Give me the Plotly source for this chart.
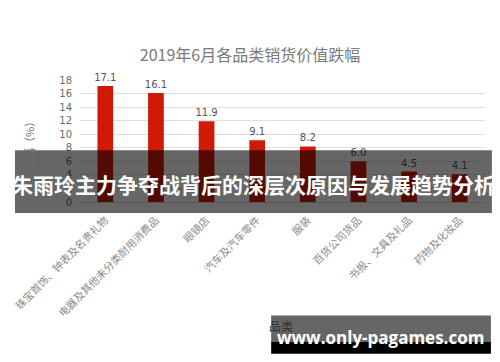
import plotly.graph_objects as go

categories = ["珠宝首饰、钟表及名贵礼物", "电器及其他未分类耐用消费品", "眼镜店", "汽车及汽车零件",
              "服装", "百货公司货品", "书报、文具及礼品", "药物及化妆品"]
values = [17.1, 16.1, 11.9, 9.1, 8.2, 6.0, 4.5, 4.1]
value_labels = ["17.1", "16.1", "11.9", "9.1", "8.2", "6.0", "4.5", "4.1"]
y_ticks = [0, 2, 4, 6, 8, 10, 12, 14, 16, 18]

title_text = "2019年6月各品类销货价值跌幅"
y_title = "跌幅（%）"
x_title = "品类"
banner_text = "朱雨玲主力争夺战背后的深层次原因与发展趋势分析"
watermark_text = "www.only-pagames.com"

W, H = 500, 362
L, R, T, B = 74, 15, 80, 160.3
pw, ph = W - L - R, H - T - B

def px_x(p):
    return (p - L) / pw

def px_y(p):
    return (H - B - p) / ph

fig = go.Figure()
fig.add_trace(go.Bar(
    x=categories, y=values, width=0.31,
    marker=dict(color="#cf1a06", line=dict(width=0)),
    text=value_labels, textposition="outside", cliponaxis=False, constraintext="none",
    textfont=dict(size=10, color="#555555", family="DejaVu Sans"),
))

fig.update_layout(
    width=W, height=H,
    margin=dict(l=L, r=R, t=T, b=B),
    paper_bgcolor="white", plot_bgcolor="white",
    showlegend=False,
    title=dict(text=title_text, x=0.5, xanchor="center", y=1 - 55 / H, yanchor="middle",
               font=dict(size=16, color="#7a7a7a", family="Noto Sans CJK SC")),
    xaxis=dict(tickangle=-45, tickfont=dict(size=10.5, color="#8a8a8a", family="Noto Sans CJK SC"),
               showline=True, linecolor="#d9d9d9", linewidth=1, ticks="", showgrid=False,
               ticklabelstandoff=7),
    yaxis=dict(range=[0, 18], tickvals=y_ticks, showgrid=True, gridcolor="#e3dede", gridwidth=1,
               zeroline=False, tickfont=dict(size=10, color="#6a6a6a", family="DejaVu Sans"),
               ticks="", ticklabelstandoff=7),
    bargap=0.69,
)

shapes = [
    dict(type="rect", xref="paper", yref="paper", layer="above",
         x0=px_x(8), x1=px_x(492), y0=px_y(212.7), y1=px_y(150),
         fillcolor="rgba(0,0,0,0.6)", line=dict(width=0)),
    dict(type="rect", xref="paper", yref="paper", layer="above",
         x0=px_x(268), x1=px_x(491), y0=px_y(341), y1=px_y(315),
         fillcolor="rgba(0,0,0,0.6)", line=dict(width=0)),
    dict(type="rect", xref="paper", yref="paper", layer="above",
         x0=px_x(268), x1=px_x(491), y0=px_y(353), y1=px_y(341),
         fillcolor="black", line=dict(width=0)),
]
fig.update_layout(shapes=shapes)

annotations = [
    dict(text=y_title, xref="paper", yref="paper", x=px_x(22), y=px_y(143), textangle=-90,
         showarrow=False, font=dict(size=11, color="#6a6a6a", family="Noto Sans CJK SC"),
         xanchor="center", yanchor="middle"),
    dict(text=x_title, xref="paper", yref="paper", x=px_x(278), y=px_y(325),
         showarrow=False, font=dict(size=12, color="#2e2e2e", family="Noto Sans CJK SC"),
         xanchor="center", yanchor="middle"),
    dict(text="<b>" + banner_text + "</b>", xref="paper", yref="paper", x=px_x(250), y=px_y(184),
         showarrow=False, font=dict(size=21, color="white", family="Noto Sans CJK SC"),
         xanchor="center", yanchor="middle"),
    dict(text="<b>" + watermark_text + "</b>", xref="paper", yref="paper", x=px_x(378.5), y=px_y(337),
         showarrow=False, font=dict(size=17, color="white", family="Open Sans"),
         xanchor="center", yanchor="middle"),
]
fig.update_layout(annotations=annotations)

fig.write_html("out.html")
